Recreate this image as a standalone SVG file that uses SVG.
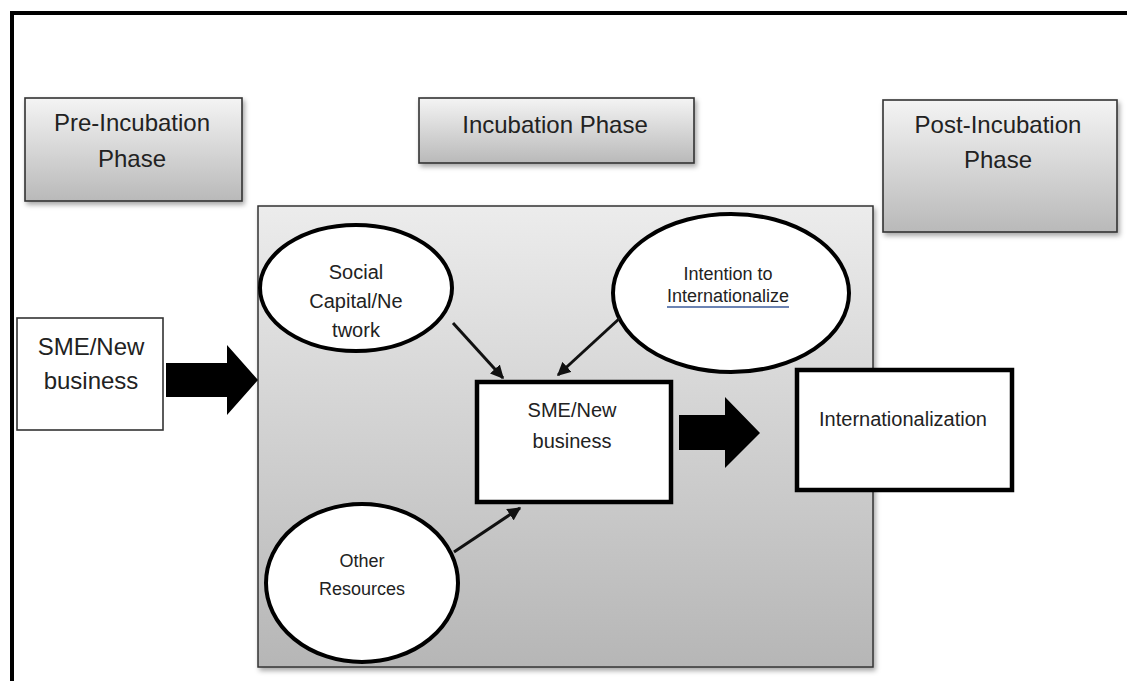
<svg xmlns="http://www.w3.org/2000/svg" width="1127" height="681" viewBox="0 0 1127 681">
<defs>
<linearGradient id="gPhase" x1="0" y1="0" x2="0" y2="1">
<stop offset="0" stop-color="#f4f4f4"/>
<stop offset="1" stop-color="#b9b9b9"/>
</linearGradient>
<linearGradient id="gBig" x1="0" y1="0" x2="0" y2="1">
<stop offset="0" stop-color="#ececec"/>
<stop offset="1" stop-color="#b6b6b6"/>
</linearGradient>
<filter id="sh" x="-10%" y="-10%" width="125%" height="130%">
<feDropShadow dx="2" dy="3" stdDeviation="2.5" flood-color="#000" flood-opacity="0.35"/>
</filter>
<marker id="ah" viewBox="0 0 10 10" refX="9" refY="5" markerWidth="4.5" markerHeight="4.5" orient="auto" markerUnits="strokeWidth">
<path d="M0,0 L10,5 L0,10 z" fill="#111"/>
</marker>
<style>
text{font-family:"Liberation Sans",Arial,sans-serif;fill:#222;text-anchor:middle}
.phase{fill:url(#gPhase);stroke:#333;stroke-width:1.6;filter:url(#sh)}
.ell{fill:#fff;stroke:#000;stroke-width:4}
.thick{fill:#fff;stroke:#000;stroke-width:4.5}
.conn{stroke:#111;stroke-width:3;fill:none;marker-end:url(#ah)}
.big{fill:#000}
.t24{font-size:24px}
.t20{font-size:20px}
.t18{font-size:18px}
</style>
</defs>
<rect width="1127" height="681" fill="#fff"/>
<path d="M12,681 V13 H1127" fill="none" stroke="#000" stroke-width="4"/>

<g id="incubation-area">
<rect x="258" y="206" width="615" height="461" fill="url(#gBig)" stroke="#333" stroke-width="1.5" filter="url(#sh)"/>
</g>

<g id="pre-incubation">
<rect class="phase" x="25" y="98" width="217" height="103"/>
<text class="t24" x="132" y="131">Pre-Incubation</text>
<text class="t24" x="132" y="167">Phase</text>
</g>

<g id="incubation-phase">
<rect class="phase" x="419" y="98" width="275" height="65"/>
<text class="t24" x="555" y="133">Incubation Phase</text>
</g>

<g id="post-incubation">
<rect class="phase" x="883" y="100" width="234" height="132"/>
<text class="t24" x="998" y="133">Post-Incubation</text>
<text class="t24" x="998" y="168">Phase</text>
</g>

<g id="sme-left">
<rect x="17" y="318" width="146" height="112" fill="#fff" stroke="#333" stroke-width="1.6"/>
<text class="t24" x="91" y="355">SME/New</text>
<text class="t24" x="91" y="389">business</text>
</g>

<g id="social-capital">
<ellipse class="ell" cx="356" cy="288" rx="96" ry="63"/>
<text class="t20" x="356" y="279">Social</text>
<text class="t20" x="356" y="308">Capital/Ne</text>
<text class="t20" x="356" y="337">twork</text>
</g>

<g id="intention">
<ellipse class="ell" cx="731" cy="293" rx="118" ry="79"/>
<text class="t18" x="728" y="280">Intention to</text>
<text class="t18" x="728" y="302">Internationalize</text>
<line x1="667" y1="307" x2="789" y2="307" stroke="#3a5a9a" stroke-width="1.5"/>
</g>

<g id="other-resources">
<ellipse class="ell" cx="362" cy="583" rx="96" ry="79"/>
<text class="t18" x="362" y="567">Other</text>
<text class="t18" x="362" y="595">Resources</text>
</g>

<g id="sme-center">
<rect class="thick" x="477" y="382" width="194" height="120"/>
<text class="t20" x="572" y="417">SME/New</text>
<text class="t20" x="572" y="448">business</text>
</g>

<g id="internationalization">
<rect class="thick" x="797" y="370" width="215" height="120"/>
<text class="t20" x="903" y="426">Internationalization</text>
</g>

<g id="connectors">
<path class="big" d="M166,363 H227 V345 L258,380 L227,415 V397 H166 z"/>
<path class="big" d="M679,415 H725 V397 L760,433 L725,468 V450 H679 z"/>
<line class="conn" x1="453" y1="323" x2="503" y2="378"/>
<line class="conn" x1="620" y1="318" x2="558" y2="375"/>
<line class="conn" x1="454" y1="552" x2="520" y2="508"/>
</g>
</svg>
